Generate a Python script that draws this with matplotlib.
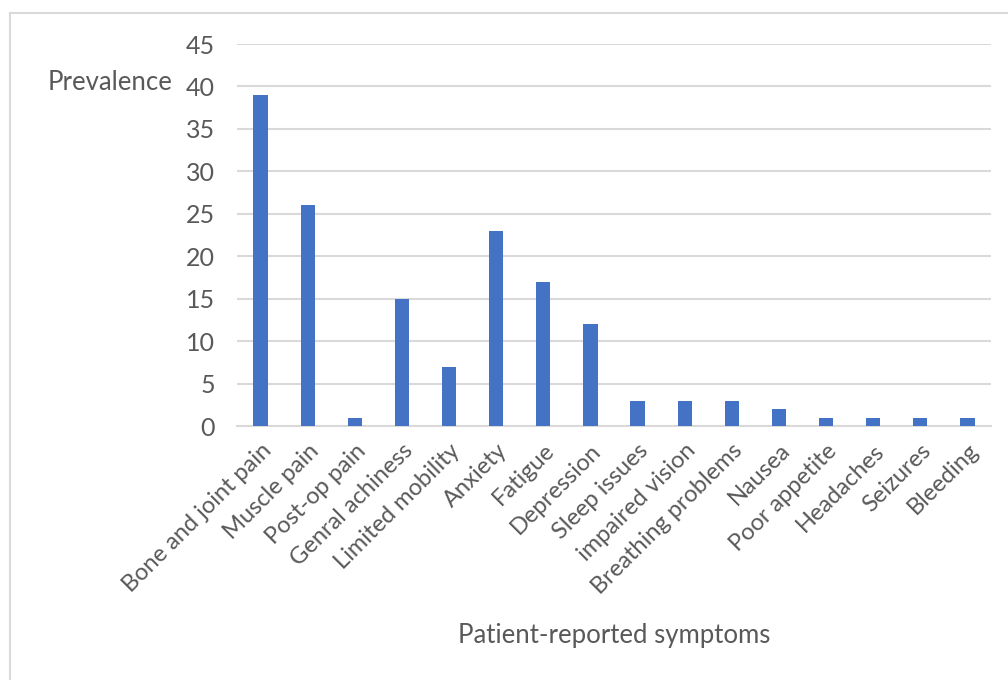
import matplotlib
matplotlib.use("Agg")
import matplotlib.pyplot as plt
from matplotlib.lines import Line2D

symptoms = ["Bone and joint pain", "Muscle pain", "Post-op pain", "Genral achiness",
            "Limited mobility", "Anxiety", "Fatigue", "Depression", "Sleep issues",
            "impaired vision", "Breathing problems", "Nausea", "Poor appetite",
            "Headaches", "Seizures", "Bleeding"]
prevalence = [39, 26, 1, 15, 7, 23, 17, 12, 3, 3, 3, 2, 1, 1, 1, 1]
y_ticks = [0, 5, 10, 15, 20, 25, 30, 35, 40, 45]

plt.rcParams['font.family'] = ['Lato', 'DejaVu Sans']
text_color = '#595959'
grid_color = '#d9d9d9'

fig = plt.figure(figsize=(10.08, 6.8), dpi=100)
ax = fig.add_axes([237/1008, 1 - 426/680, 754/1008, 382/680])

x = range(len(symptoms))
ax.bar(x, prevalence, width=0.3, color='#4472C4', zorder=3)

ax.set_xlim(-0.5, len(symptoms) - 0.5)
ax.set_ylim(0, 45)
ax.set_yticks(y_ticks)
ax.set_yticklabels([str(v) for v in y_ticks], fontsize=18, color=text_color)
ax.set_xticks(list(x))
ax.set_xticklabels(symptoms, rotation=45, ha='right', rotation_mode='anchor',
                   fontsize=17, color=text_color)
ax.tick_params(axis='both', length=0)
ax.tick_params(axis='y', pad=16)
ax.tick_params(axis='x', pad=10)

ax.grid(axis='y', color=grid_color, linewidth=1.5, zorder=0)
for side in ['top', 'right', 'left']:
    ax.spines[side].set_visible(False)
ax.spines['bottom'].set_color(grid_color)
ax.spines['bottom'].set_linewidth(1.5)

# axis titles
fig.text(110/1008, 1 - 82/680, "Prevalence", fontsize=18.5, color=text_color,
         ha='center', va='center')
fig.text(614/1008, 1 - 635/680, "Patient-reported symptoms", fontsize=18.5,
         color=text_color, ha='center', va='center')

# chart area border
fig.add_artist(Line2D([10/1008, 10/1008], [0, 1 - 13/680], color=grid_color, linewidth=1.5))
fig.add_artist(Line2D([10/1008, 1], [1 - 13/680, 1 - 13/680], color=grid_color, linewidth=1.5))

fig.savefig("out.png", dpi=100)
